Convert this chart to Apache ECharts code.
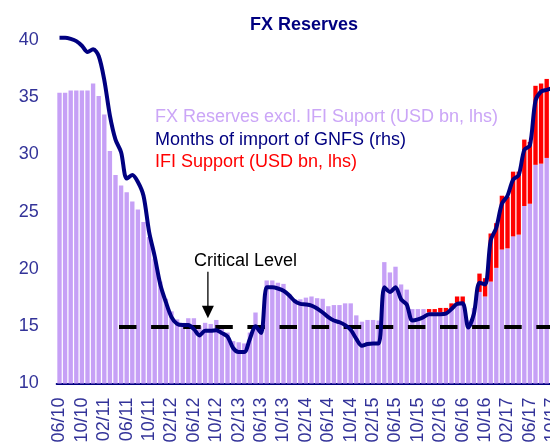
<!DOCTYPE html>
<html><head><meta charset="utf-8">
<script src="https://cdn.jsdelivr.net/npm/echarts@6/dist/echarts.min.js"></script>
<style>html,body{margin:0;padding:0;background:#fff}#c{width:550px;height:448px}</style>
</head><body><div id="c"></div>
<script>
const categories = [
  '06/10','07/10','08/10','09/10','10/10','11/10','12/10',
  '01/11','02/11','03/11','04/11','05/11','06/11','07/11','08/11','09/11','10/11','11/11','12/11',
  '01/12','02/12','03/12','04/12','05/12','06/12','07/12','08/12','09/12','10/12','11/12','12/12',
  '01/13','02/13','03/13','04/13','05/13','06/13','07/13','08/13','09/13','10/13','11/13','12/13',
  '01/14','02/14','03/14','04/14','05/14','06/14','07/14','08/14','09/14','10/14','11/14','12/14',
  '01/15','02/15','03/15','04/15','05/15','06/15','07/15','08/15','09/15','10/15','11/15','12/15',
  '01/16','02/16','03/16','04/16','05/16','06/16','07/16','08/16','09/16','10/16','11/16','12/16',
  '01/17','02/17','03/17','04/17','05/17','06/17','07/17','08/17','09/17','10/17'
];
// FX reserves excluding IFI support (USD bn, lhs)
const fxExIFI = [
  35.4,35.4,35.6,35.6,35.6,35.6,36.2,
  35.1,33.5,30.3,28.2,27.3,26.7,25.9,25.2,24.1,22.8,20.9,18.9,
  17.4,16.3,15.6,15.3,15.7,15.7,15.0,15.3,15.2,15.55,15.0,14.45,
  13.7,13.6,13.5,14.45,16.2,15.0,19.0,19.0,18.8,18.7,17.8,17.35,
  17.35,17.5,17.6,17.45,17.4,16.75,16.85,16.85,17.0,17.0,15.95,15.4,
  15.55,15.55,15.5,20.6,19.7,20.2,18.65,18.2,16.5,16.5,16.5,16.2,
  16.2,16.2,16.2,16.6,17.05,17.05,15.5,16.6,18.0,17.6,18.9,20.1,
  21.7,21.8,22.85,23.0,25.5,25.7,29.1,29.2,29.7,30.0
];
// IFI support (USD bn, lhs)
const ifiSupport = [
  0,0,0,0,0,0,0,
  0,0,0,0,0,0,0,0,0,0,0,0,
  0,0,0,0,0,0,0,0,0,0,0,0,
  0,0,0,0,0,0,0,0,0,0,0,0,
  0,0,0,0,0,0,0,0,0,0,0,0,
  0,0,0,0,0,0,0,0,0,0,0,0.3,
  0.3,0.4,0.4,0.4,0.55,0.55,0,0,1.6,1.6,4.2,3.9,
  4.7,4.5,5.65,5.5,5.8,5.4,6.9,7.0,6.9,6.8
];
// Months of import of GNFS (rhs)
const monthsOfImport = [
  8.04,8.04,8.02,7.98,7.90,7.79,7.84,
  7.72,7.30,6.68,6.26,6.04,5.58,5.64,5.52,5.28,4.65,4.22,3.73,
  3.42,3.16,3.04,3.02,3.02,2.95,2.84,2.92,2.92,2.93,2.88,2.82,
  2.62,2.55,2.55,2.78,3.00,2.88,3.68,3.68,3.66,3.62,3.54,3.44,
  3.39,3.38,3.36,3.31,3.24,3.16,3.10,3.07,3.02,2.94,2.78,2.66,
  2.69,2.70,2.70,3.68,3.60,3.68,3.47,3.38,3.10,3.12,3.16,3.21,
  3.21,3.21,3.22,3.30,3.39,3.40,2.98,3.22,3.76,3.73,4.50,4.72,
  5.14,5.28,5.56,5.64,6.08,6.16,6.94,7.10,7.13,7.16
];
const criticalLevel = 15;
const criticalStart = '04/11';
const lhsAxis = { min: 10, max: 40, interval: 5 };
const rhsAxis = { min: 2, max: 8 };

const FONT = "'Liberation Sans', Arial, sans-serif";
const chart = echarts.init(document.getElementById('c'), null, { renderer: 'canvas' });

const option = {
  animation: false,
  grid: { left: 56.7, top: 40, width: 498.4, height: 343.5, containLabel: false, outerBoundsMode: 'none' },
  xAxis: {
    type: 'category', data: categories, boundaryGap: true,
    axisLine: { lineStyle: { color: '#000080', width: 2 } },
    axisTick: { interval: 3, length: 6, lineStyle: { color: '#000080', width: 1.5 } },
    axisLabel: { interval: 3, rotate: 90, margin: 14, padding: [4, 0, 0, 0], color: '#333399', fontSize: 18, fontFamily: FONT }
  },
  yAxis: [
    { type: 'value', min: lhsAxis.min, max: lhsAxis.max, interval: lhsAxis.interval,
      axisLine: { show: false }, axisTick: { show: false }, splitLine: { show: false },
      axisLabel: { color: '#333399', fontSize: 18, margin: 18, fontFamily: FONT } },
    { type: 'value', min: rhsAxis.min, max: rhsAxis.max, show: false, position: 'right', splitLine: { show: false } }
  ],
  series: [
    { name: 'FX Reserves excl. IFI Suport (USD bn, lhs)', type: 'bar', stack: 'fx', data: fxExIFI,
      barWidth: '78%', itemStyle: { color: '#C6A0F6' },
      markLine: {
        silent: true, symbol: ['none', 'none'], label: { show: false },
        lineStyle: { color: '#000000', width: 4, type: [17.5, 14.6], dashOffset: 28.6 },
        emphasis: { disabled: true },
        data: [[{ coord: [criticalStart, criticalLevel] }, { coord: [categories[categories.length - 1], criticalLevel] }]]
      }
    },
    { name: 'IFI Support (USD bn, lhs)', type: 'bar', stack: 'fx', data: ifiSupport,
      itemStyle: { color: '#FF0000' } },
    { name: 'Months of import of GNFS (rhs)', type: 'line', yAxisIndex: 1, data: monthsOfImport,
      smooth: 0.3, symbol: 'none', clip: false, z: 5,
      lineStyle: { color: '#000080', width: 4 } }
  ]
};
chart.setOption(option);

const px = (cat, v) => chart.convertToPixel({ xAxisIndex: 0, yAxisIndex: 0 }, [cat, v]);
const ax = (px(categories[26], 15)[0] + px(categories[27], 15)[0]) / 2;
const aTop = px(categories[26], 19.75)[1];
const aTip = px(categories[26], 15.7)[1];
const textY = px(categories[26], 20.7)[1];

chart.setOption({
  graphic: [
    { type: 'text', x: 304, y: 25, style: { text: 'FX Reserves', fill: '#000080', font: "bold 18px " + FONT, align: 'center', verticalAlign: 'middle' } },
    { type: 'text', x: 155, y: 117, style: { text: 'FX Reserves excl. IFI Suport (USD bn, lhs)', fill: '#CBA6F7', font: "18px " + FONT, verticalAlign: 'middle' } },
    { type: 'text', x: 155, y: 140.5, style: { text: 'Months of import of GNFS (rhs)', fill: '#000080', font: "18px " + FONT, verticalAlign: 'middle' } },
    { type: 'text', x: 155, y: 162, style: { text: 'IFI Support (USD bn, lhs)', fill: '#FF0000', font: "18px " + FONT, verticalAlign: 'middle' } },
    { type: 'text', x: ax - 14, y: textY, style: { text: 'Critical Level', fill: '#000000', font: "18px " + FONT, verticalAlign: 'middle' } },
    { type: 'line', shape: { x1: ax, y1: aTop, x2: ax, y2: aTip - 11 }, style: { stroke: '#000000', lineWidth: 1.3 } },
    { type: 'polygon', shape: { points: [[ax - 6, aTip - 12.5], [ax + 6, aTip - 12.5], [ax, aTip]] }, style: { fill: '#000000' } }
  ]
});
</script></body></html>
